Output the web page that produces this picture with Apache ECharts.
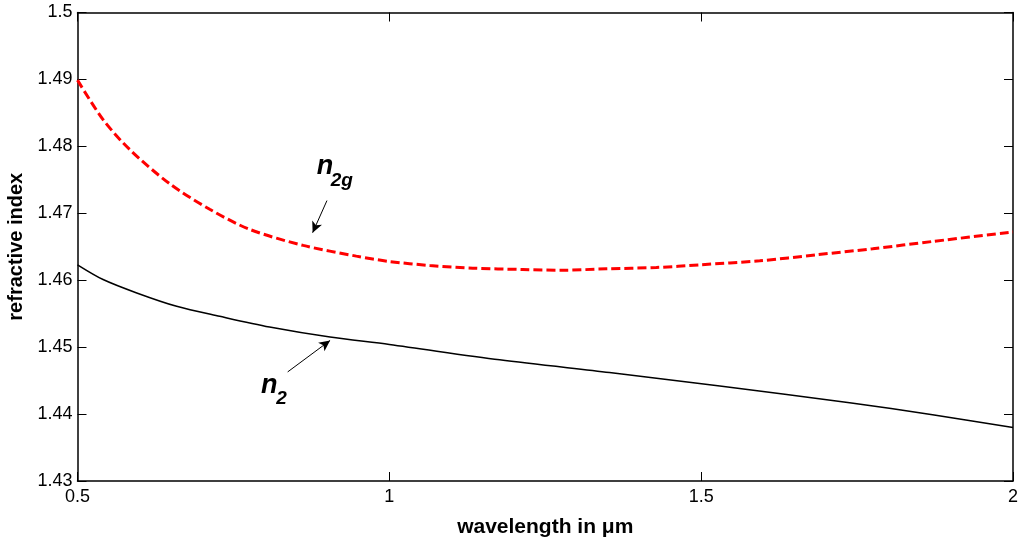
<!DOCTYPE html>
<html>
<head>
<meta charset="utf-8">
<script src="https://cdn.jsdelivr.net/npm/echarts@6/dist/echarts.min.js"></script>
<style>
  html, body { margin: 0; padding: 0; background: #fff; }
  #container { width: 1023px; height: 538px; }
</style>
</head>
<body>
<div id="container"></div>
<script>
// values
const lambdaG = [0.5, 0.541, 0.584, 0.648, 0.712, 0.776, 0.862, 0.947, 1.0, 1.065, 1.134, 1.214, 1.279, 1.348, 1.428, 1.498, 1.594, 1.685, 1.775, 1.872, 2.0];
const n2g = [1.4899, 1.4840, 1.4795, 1.4744, 1.4706, 1.4676, 1.4652, 1.4636, 1.4628, 1.4622, 1.4618, 1.4616, 1.4615, 1.4617, 1.4619, 1.4623, 1.4629, 1.4638, 1.4647, 1.4658, 1.4672];

const lambda2 = [0.5, 0.541, 0.595, 0.659, 0.728, 0.808, 0.905, 1.0, 1.177, 1.353, 1.53, 1.738, 1.871, 2.0];
const n2 = [1.4623, 1.4601, 1.4581, 1.4561, 1.4546, 1.4530, 1.4515, 1.4504, 1.4481, 1.4462, 1.4442, 1.4417, 1.4399, 1.4380];

// annotation arrows [from, to] in data units
const arrowG = [[0.900, 1.4719], [0.877, 1.4671]];
const arrow2 = [[0.837, 1.4463], [0.905, 1.4510]];

const font = '"Liberation Sans", Arial, sans-serif';

const dom = document.getElementById('container');
const chart = echarts.init(dom, null, { renderer: 'canvas' });

const tickStyle = { show: true, inside: true, length: 9, lineStyle: { color: '#000', width: 1 } };
const axisLine = { show: true, lineStyle: { color: '#000', width: 1.5 } };

chart.setOption({
  animation: false,
  backgroundColor: '#fff',
  grid: { left: 77.5, right: 10, top: 12.5, bottom: 57, containLabel: false, outerBoundsMode: 'none' },
  xAxis: [{
    type: 'value', min: 0.5, max: 2, interval: 0.5, position: 'bottom',
    name: 'wavelength in \u03bcm', nameLocation: 'middle', nameGap: 36,
    nameTextStyle: { fontFamily: font, fontWeight: 'bold', fontSize: 21, color: '#000' },
    axisLine: axisLine, axisTick: tickStyle, splitLine: { show: false },
    axisLabel: { fontFamily: font, fontSize: 18, color: '#000', margin: 7 }
  }, {
    type: 'value', min: 0.5, max: 2, interval: 0.5, position: 'top',
    axisLine: axisLine, axisTick: tickStyle, splitLine: { show: false },
    axisLabel: { show: false }
  }],
  yAxis: [{
    type: 'value', min: 1.43, max: 1.5, interval: 0.01, position: 'left',
    name: 'refractive index', nameLocation: 'middle', nameGap: 48,
    nameTextStyle: { fontFamily: font, fontWeight: 'bold', fontSize: 20, color: '#000' },
    axisLine: axisLine, axisTick: tickStyle, splitLine: { show: false },
    axisLabel: { fontFamily: font, fontSize: 18, color: '#000', margin: 5 }
  }, {
    type: 'value', min: 1.43, max: 1.5, interval: 0.01, position: 'right',
    axisLine: axisLine, axisTick: tickStyle, splitLine: { show: false },
    axisLabel: { show: false }
  }],
  series: [{
    name: 'n2g', type: 'line', showSymbol: false, smooth: 0.3,
    data: lambdaG.map((x, i) => [x, n2g[i]]),
    lineStyle: { color: '#ff0000', width: 3, type: [9, 4] }
  }, {
    name: 'n2', type: 'line', showSymbol: false, smooth: 0.3,
    data: lambda2.map((x, i) => [x, n2[i]]),
    lineStyle: { color: '#000', width: 1.5 },
    markLine: {
      silent: true, symbol: ['none', 'arrow'], symbolSize: [8, 11],
      label: { show: false },
      lineStyle: { color: '#000', width: 1, type: 'solid' },
      itemStyle: { color: '#000' },
      data: [
        [{ coord: arrowG[0] }, { coord: arrowG[1] }],
        [{ coord: arrow2[0] }, { coord: arrow2[1] }]
      ]
    }
  }]
});

// labels anchored in data units
function px(p) { return chart.convertToPixel({ gridIndex: 0 }, p); }
const labelStyle = (txt, size) => ({ text: txt, fill: '#000', font: 'italic bold ' + size + 'px ' + font, verticalAlign: 'middle', align: 'left' });
const labels = [
  { at: [0.8838, 1.4770], txt: 'n', size: 27 },
  { at: [0.9060, 1.4748], txt: '2g', size: 19 },
  { at: [0.7941, 1.4443], txt: 'n', size: 27 },
  { at: [0.8185, 1.4423], txt: '2', size: 19 }
];
chart.setOption({
  graphic: labels.map(l => {
    const p = px(l.at);
    return { type: 'text', x: p[0], y: p[1], style: labelStyle(l.txt, l.size), silent: true };
  })
});
</script>
</body>
</html>
